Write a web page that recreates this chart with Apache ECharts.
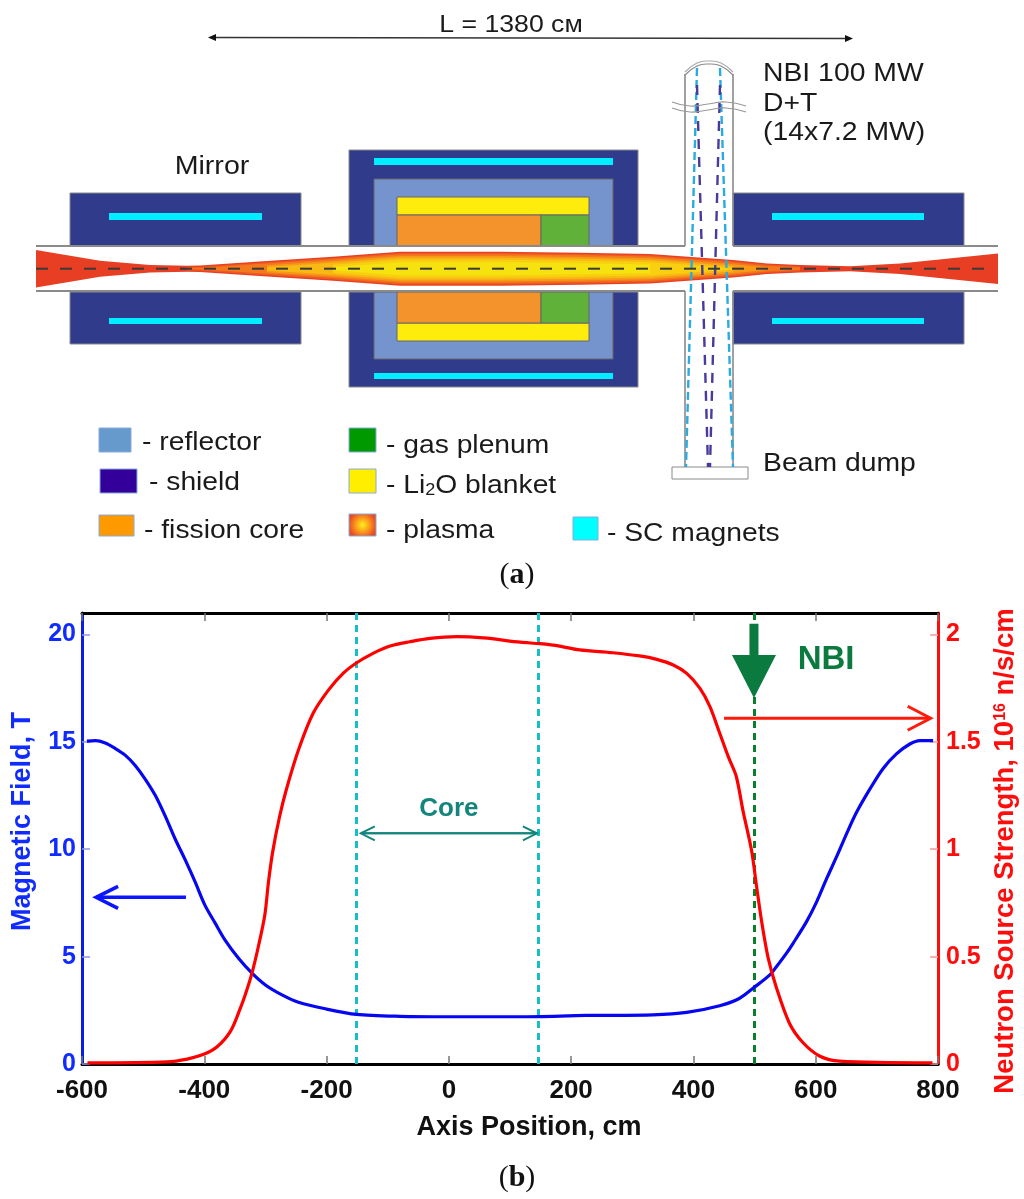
<!DOCTYPE html>
<html><head><meta charset="utf-8">
<style>html,body{margin:0;padding:0;background:#fff}#c{width:1024px;height:1199px}</style>
<script src="https://cdn.jsdelivr.net/npm/echarts@6/dist/echarts.min.js"></script>
</head><body><div id="c"></div>
<script>
const xTicks = [-600,-400,-200,0,200,400,600,800];
const magneticField = [[-592,15.03],[-578,15.06],[-562,14.95],[-546,14.7],[-529,14.37],[-513,13.9],[-497,13.28],[-480,12.5],[-464,11.55],[-448,10.5],[-431,9.49],[-415,8.48],[-399,7.4],[-382,6.55],[-366,5.77],[-344,4.92],[-322,4.23],[-300,3.68],[-273,3.22],[-246,2.88],[-202,2.57],[-151,2.31],[-80,2.22],[0,2.2],[116,2.2],[225,2.26],[334,2.29],[389,2.4],[443,2.71],[475,3.05],[499,3.56],[525,4.15],[536,4.54],[552,5.15],[563,5.62],[585,6.63],[601.5,7.55],[618,8.64],[634,9.64],[650.6,10.73],[667,11.73],[689,12.82],[710,13.75],[732,14.44],[754,14.9],[770.6,15.06],[792,15.06]];
const neutronSource = [[-591,0.005],[-461,0.01],[-428,0.023],[-401,0.045],[-379,0.08],[-357,0.153],[-341,0.26],[-333,0.322],[-322,0.423],[-311,0.554],[-301,0.694],[-295,0.848],[-288,0.99],[-277,1.15],[-266,1.276],[-246,1.462],[-222,1.633],[-197,1.741],[-173,1.819],[-152,1.866],[-124,1.912],[-96,1.946],[-64,1.966],[-31,1.982],[13,1.99],[57,1.984],[117,1.964],[149,1.957],[181,1.946],[214,1.928],[268,1.915],[312,1.9],[340,1.884],[367,1.858],[389,1.819],[410.7,1.749],[427,1.664],[443,1.54],[457,1.431],[470,1.34],[481,1.18],[495,0.995],[503,0.833],[511.6,0.663],[522.4,0.492],[536,0.353],[557,0.19],[579,0.1],[607,0.036],[639,0.013],[791,0.005]];
const coreEdges = [-152,147];
const nbiPosition = [499];
const leftTicks = [0,5,10,15,20];
const rightTicks = [0,0.5,1,1.5,2];
// x1, y1, x2, y2 (axis units), colour, line width, head length, head half-width
const arrows = [
  [-430,7.76,-577,7.76,'#0a14ff',3.5,22,11],
  [450,16.1,788,16.1,'#ff1a0a',3,23,12],
  [-144,10.74,144,10.74,'#14857c',2,14,7],
  [144,10.74,-144,10.74,'#14857c',2,14,7]
];
const nbiArrow = [499,20.5,17.04];
const notes = [[0,11.87,'Core','#14857c',26],[617,18.8,'NBI','#0a7a3f',33]];

const FONT = '"Liberation Sans", Arial, sans-serif';
const SH='#313b8b',RF='#7593cc',YE='#fdec0c',OR='#f4922b',GR='#5fb13a',MG='#00eeff',EDGE='#8a8a8a';
const rect=(x1,y1,x2,y2,fill,stroke)=>({type:'rect',shape:{x:x1,y:y1,width:x2-x1,height:y2-y1},style:{fill,stroke:stroke||null,lineWidth:stroke?1:0}});
const ln=(x1,y1,x2,y2,stroke,lineWidth,lineDash)=>({type:'line',shape:{x1,y1,x2,y2},style:{stroke,lineWidth,lineDash:lineDash||null}});
const txt=(x,y,text,size,sx,align)=>({type:'text',x,y:y+2,scaleX:sx,style:{x:0,y:0,text,fill:'#1a1a1a',font:size+'px '+FONT,textAlign:align||'left',verticalAlign:'middle'}});
const g=[];
// mirror and core blocks
[[70,301],[733,964]].forEach(([a,b])=>{
  g.push(rect(a,193,b,246,SH,EDGE),rect(a,292,b,344,SH,EDGE));
});
g.push(rect(109,213,262,220,MG),rect(109,318,262,324,MG),rect(772,213,924,220,MG),rect(772,318,924,324,MG));
g.push(rect(349,150,638,246,SH,EDGE),rect(349,292,638,387,SH,EDGE));
g.push(rect(374,158,613,165,MG),rect(374,373,613,379,MG));
g.push(rect(374,179,613,246,RF,'#666'),rect(374,292,613,359,RF,'#666'));
g.push(rect(397,197,589,215,YE,'#666'),rect(397,323,589,341,YE,'#666'));
g.push(rect(397,215,541,246,OR,'#666'),rect(397,292,541,323,OR,'#666'));
g.push(rect(541,215,589,246,GR,'#666'),rect(541,292,589,323,GR,'#666'));
// plasma
const CY=268.7;
const envX=[36,100,150,187,200,267,333,400,500,580,650,733,767,800,850,900,998];
const envH=[18.7,8,3.7,3,3.2,7.7,12,17,17,16,14.7,8.7,5.3,3.7,2.5,5.3,15.3];
const poly=(pts,fill)=>({type:'polygon',shape:{points:pts},style:{fill}});
const band=(xs,hs)=>xs.map((x,i)=>[x,CY-hs[i]]).concat(xs.map((x,i)=>[x,CY+hs[i]]).reverse());
g.push(poly(band(envX,envH),'#e83e23'));
const lay=[[1.2,'#ef5a20'],[2.6,'#f37a1c'],[4.2,'#f69a18'],[6,'#f9b914'],[8,'#f8d010'],[10.5,'#f5e20e']];
lay.forEach(([d,c])=>{
  const xs=[],hs=[];
  envX.forEach((x,i)=>{ if(x>=187&&x<=800&&envH[i]-d>0){xs.push(x);hs.push(envH[i]-d);} });
  if(xs.length>1) g.push(poly(band(xs,hs),c));
});
// duct walls
[246,291].forEach(y=>{g.push(ln(36,y,685,y,EDGE,2),ln(733,y,998,y,EDGE,2));});
// beam tube
g.push(ln(685,74,685,246,EDGE,1.6),ln(733,74,733,246,EDGE,1.6),ln(685,291,685,467,EDGE,1.6),ln(733,291,733,467,EDGE,1.6));
g.push({type:'polyline',shape:{points:[[685,75],[697,66],[709,64],[721,66],[733,75]],smooth:0.5},style:{stroke:EDGE,lineWidth:1.2,fill:null}});
g.push({type:'polyline',shape:{points:[[685,72],[697,63],[709,61],[721,63],[733,72]],smooth:0.5},style:{stroke:'#aaa',lineWidth:1.2,fill:null}});
g.push(rect(672,467,748,479,'#fff',EDGE));
// beam rays
const BL='#29abe2',PU='#4a3a9c';
g.push(ln(697,68,686,467,BL,2.4,[8,4]),ln(720,68,733,467,BL,2.4,[8,4]));
g.push(ln(697,85,708,467,PU,2.4,[10,8]),ln(720,85,710,467,PU,2.4,[10,8]));
// break in the tube
g.push({type:'polyline',shape:{points:[[672,102],[690,106],[708,104],[726,102],[746,106]],smooth:0.5},style:{stroke:'#999',lineWidth:1.2,fill:null}});
g.push({type:'polyline',shape:{points:[[672,108],[690,112],[708,110],[726,108],[746,112]],smooth:0.5},style:{stroke:'#999',lineWidth:1.2,fill:null}});
g.push(ln(36,CY,985,CY,'#3a3a3a',2,[12,12]));
// length arrow
g.push(ln(214,37.5,848,38.5,'#333',1.5));
g.push(poly([[208,37.5],[216,34],[216,41]],'#111'),poly([[853,38.5],[845,35],[845,42]],'#111'));
g.push(txt(511,23,'L = 1380 см',24,1.11,'center'));
g.push(txt(212,165,'Mirror',26,1.1,'center'));
g.push(txt(763,72,'NBI 100 MW',26,1.09),txt(763,102,'D+T',26,1.09),txt(763,131,'(14x7.2 MW)',26,1.09),txt(763,462,'Beam dump',26,1.09));
// key
const KS=25,KX=1.13;
g.push(rect(99,428,131,452,'#6699cc','#88aadd'),txt(142,441,'- reflector',KS,KX));
g.push(rect(100,469,137,493,'#330099','#88aadd'),txt(149,481,'- shield',KS,KX));
g.push(rect(99,515,134,536,'#ff9900','#88aadd'),txt(144,529,'- fission core',KS,KX));
g.push(rect(349,428,376,452,'#009900','#88aadd'),txt(386,444,'- gas plenum',KS,KX));
g.push(rect(349,469,376,493,'#ffee00','#88aadd'));
g.push({type:'text',x:386,y:486,scaleX:KX,style:{x:0,y:0,text:'{t|- Li}{s|2}{t|O blanket}',fill:'#1a1a1a',textAlign:'left',verticalAlign:'middle',rich:{t:{font:KS+'px '+FONT,fill:'#1a1a1a'},s:{font:'16px '+FONT,fill:'#1a1a1a',padding:[10,0,0,0]}}}});
g.push({type:'rect',shape:{x:349,y:514,width:27,height:22},style:{stroke:'#88aadd',lineWidth:1,fill:{type:'radial',x:0.5,y:0.5,r:0.6,colorStops:[{offset:0,color:'#fff01a'},{offset:0.5,color:'#fb9c1c'},{offset:1,color:'#ea4a23'}]}}},txt(386,529,'- plasma',KS,KX));
g.push(rect(573,517,598,540,'#00ffff','#88aadd'),txt(607,532,'- SC magnets',KS,KX));
// captions
const cap=(y,l)=>({type:'text',style:{x:517,y,text:'{p|(}{b|'+l+'}{p|)}',textAlign:'center',verticalAlign:'middle',rich:{p:{font:'30px "Liberation Serif", serif',fill:'#111'},b:{font:'bold 30px "Liberation Serif", serif',fill:'#111'}}}});
g.push(cap(575,'a'),cap(1178,'b'));

const chart=echarts.init(document.getElementById('c'),null,{renderer:'canvas'});
const dash=(x,color)=>({xAxis:x,lineStyle:{color,width:3,type:[7,5]},label:{show:false}});
const tickFont={fontFamily:FONT,fontWeight:'bold',fontSize:25};
chart.setOption({
  animation:false,backgroundColor:'#fff',
  grid:{left:82,right:86,top:613,bottom:135,containLabel:false,outerBoundsMode:'none'},
  xAxis:[
    {type:'value',min:-600,max:800,interval:200,position:'bottom',
     axisLine:{onZero:false,lineStyle:{color:'#000',width:3}},
     axisTick:{inside:true,length:8,lineStyle:{color:'#777',width:1.5}},
     axisLabel:Object.assign({},tickFont,{fontSize:26,color:'#111',margin:14,formatter:v=>xTicks.includes(v)?String(v):''}),
     splitLine:{show:false},
     name:'Axis Position, cm',nameLocation:'middle',nameGap:50,
     nameTextStyle:{fontFamily:FONT,fontWeight:'bold',fontSize:27,color:'#111',padding:[0,0,0,38]}},
    {type:'value',min:-600,max:800,interval:200,position:'top',
     axisLine:{onZero:false,lineStyle:{color:'#000',width:3}},
     axisTick:{inside:true,length:8,lineStyle:{color:'#777',width:1.5}},
     axisLabel:{show:false},splitLine:{show:false}}
  ],
  yAxis:[
    {type:'value',min:0,max:21,interval:5,position:'left',
     axisLine:{show:true,onZero:false,lineStyle:{color:'#0a1ee6',width:3}},
     axisTick:{inside:true,length:8,lineStyle:{color:'#8c96ee',width:1.5},customValues:leftTicks},
     axisLabel:Object.assign({},tickFont,{color:'#0f2bff',margin:6,customValues:leftTicks}),
     splitLine:{show:false},
     name:'Magnetic Field, T',nameLocation:'middle',nameGap:46,nameRotate:90,
     nameTextStyle:{fontFamily:FONT,fontWeight:'bold',fontSize:27,color:'#0f2bff',padding:[0,0,0,34]}},
    {type:'value',min:0,max:2.1,interval:0.5,position:'right',
     axisLine:{show:true,onZero:false,lineStyle:{color:'#ff0d0d',width:3}},
     axisTick:{inside:true,length:8,lineStyle:{color:'#f59a9a',width:1.5},customValues:rightTicks},
     axisLabel:Object.assign({},tickFont,{color:'#ff0d0d',margin:8,customValues:rightTicks}),
     splitLine:{show:false},
     name:'{a|Neutron Source Strength, 10}{s|16}{a| n/s/cm}',nameLocation:'middle',nameGap:50,nameRotate:90,
     nameTextStyle:{color:'#ff0d0d',padding:[0,25,0,0],
       rich:{a:{fontFamily:FONT,fontWeight:'bold',fontSize:27.5,color:'#ff0d0d'},s:{fontFamily:FONT,fontWeight:'bold',fontSize:16,color:'#ff0d0d',padding:[0,0,10,0]}}}}
  ],
  series:[
    {name:'Magnetic Field',type:'line',xAxisIndex:0,yAxisIndex:0,data:magneticField,smooth:0.3,showSymbol:false,
     lineStyle:{color:'#0606f0',width:3.2},z:3,
     markLine:{silent:true,symbol:'none',z:2,data:coreEdges.map(x=>dash(x,'#14c0c8')).concat(nbiPosition.map(x=>dash(x,'#0a7f2a')))}},
    {name:'Neutron Source Strength',type:'line',xAxisIndex:0,yAxisIndex:1,data:neutronSource,smooth:0.3,showSymbol:false,
     lineStyle:{color:'#ff0000',width:3.2},z:4},
    {name:'Arrows',type:'custom',xAxisIndex:0,yAxisIndex:0,clip:false,z:5,silent:true,
     data:arrows.map((a,i)=>[i]),
     renderItem:(p,api)=>{
       const a=arrows[api.value(0)];
       const s=api.coord([a[0],a[1]]),t=api.coord([a[2],a[3]]);
       const d=Math.sign(t[0]-s[0]);
       return {type:'group',children:[
         {type:'line',shape:{x1:s[0],y1:s[1],x2:t[0],y2:t[1]},style:{stroke:a[4],lineWidth:a[5]}},
         {type:'polyline',shape:{points:[[t[0]-d*a[6],t[1]-a[7]],t,[t[0]-d*a[6],t[1]+a[7]]]},style:{stroke:a[4],lineWidth:a[5],fill:null}}
       ]};
     }},
    {name:'NBI',type:'custom',xAxisIndex:0,yAxisIndex:0,clip:false,z:6,silent:true,
     data:[nbiArrow],
     renderItem:(p,api)=>{
       const top=api.coord([api.value(0),api.value(1)]),tip=api.coord([api.value(0),api.value(2)]);
       const x=tip[0],neck=tip[1]-43;
       return {type:'polygon',shape:{points:[[x-4.5,top[1]],[x+4.5,top[1]],[x+4.5,neck],[x+22,neck],[x,tip[1]],[x-22,neck],[x-4.5,neck]]},style:{fill:'#0a7a3f'}};
     }},
    {name:'Notes',type:'custom',xAxisIndex:0,yAxisIndex:0,clip:false,z:6,silent:true,
     data:notes.map((n,i)=>[n[0],n[1],i]),
     renderItem:(p,api)=>{
       const n=notes[api.value(2)],c=api.coord([n[0],n[1]]);
       return {type:'text',style:{x:c[0],y:c[1],text:n[2],fill:n[3],font:'bold '+n[4]+'px '+FONT,textAlign:'center',verticalAlign:'middle'}};
     }}
  ],
  graphic:{elements:g}
});
</script></body></html>
